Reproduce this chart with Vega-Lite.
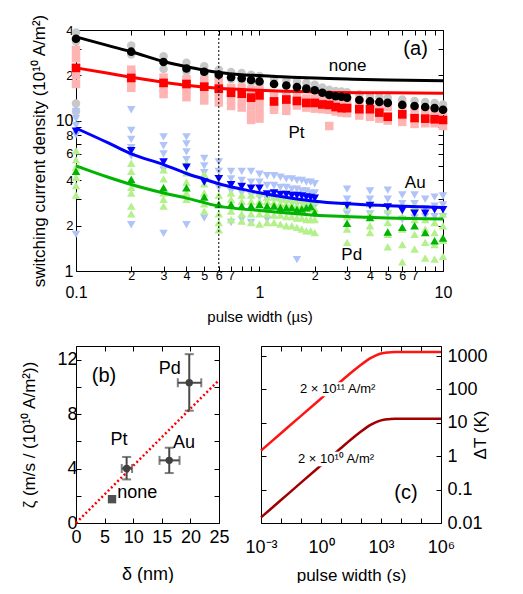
{
"$schema":"https://vega.github.io/schema/vega-lite/v6.json",
"padding":{"left":20,"top":13,"right":0,"bottom":0},
"config":{"font":"Liberation Sans","view":{"stroke":null},"axis":{"domainColor":"#000","tickColor":"#000","labelColor":"#000","titleColor":"#000","titleFontWeight":"normal","grid":false,"labelFont":"Liberation Sans","titleFont":"Liberation Sans","labelOverlap":false,"labelBound":false,"labelFlush":false}},
"datasets":{
"rawA":[
{"s":"none","x":0.1,"y":38.5},{"s":"none","x":0.1,"y":33.5},{"s":"none","x":0.1,"y":13.0},{"s":"none","x":0.1,"y":11.5},
{"s":"none","x":0.2,"y":31.5},{"s":"none","x":0.2,"y":27.5},{"s":"none","x":0.3,"y":26.8},{"s":"none","x":0.3,"y":22.0},
{"s":"none","x":0.4,"y":24.2},{"s":"none","x":0.4,"y":21.2},{"s":"none","x":0.5,"y":23.0},{"s":"none","x":0.5,"y":20.3},
{"s":"none","x":0.6,"y":21.8},{"s":"none","x":0.6,"y":19.2},{"s":"none","x":0.7,"y":21.0},{"s":"none","x":0.7,"y":18.8},
{"s":"none","x":0.8,"y":20.7},{"s":"none","x":0.8,"y":18.5},{"s":"none","x":0.9,"y":20.2},{"s":"none","x":0.9,"y":18.0},
{"s":"none","x":1,"y":19.8},{"s":"none","x":1,"y":17.6},{"s":"none","x":1.2,"y":19.0},{"s":"none","x":1.4,"y":18.5},
{"s":"none","x":1.6,"y":18.2},{"s":"none","x":1.8,"y":17.8},{"s":"none","x":2,"y":17.3},{"s":"none","x":2.2,"y":16.6},
{"s":"none","x":2.4,"y":16.0},{"s":"none","x":2.6,"y":15.7},{"s":"none","x":2.8,"y":15.6},{"s":"none","x":3,"y":15.4},
{"s":"none","x":3.5,"y":14.9},{"s":"none","x":4,"y":14.5},{"s":"none","x":4.5,"y":14.4},{"s":"none","x":5,"y":14.2},
{"s":"none","x":6,"y":13.8},{"s":"none","x":7,"y":13.5},{"s":"none","x":8,"y":13.3},{"s":"none","x":9,"y":13.1},{"s":"none","x":10,"y":12.8},
{"s":"Pt","x":0.1,"y":29.5},{"s":"Pt","x":0.1,"y":26},{"s":"Pt","x":0.1,"y":20},{"s":"Pt","x":0.1,"y":17.5},
{"s":"Pt","x":0.2,"y":21.8},{"s":"Pt","x":0.2,"y":20.5},{"s":"Pt","x":0.2,"y":17.8},{"s":"Pt","x":0.2,"y":16.5},
{"s":"Pt","x":0.3,"y":19.3},{"s":"Pt","x":0.3,"y":16.5},{"s":"Pt","x":0.3,"y":15.0},
{"s":"Pt","x":0.4,"y":18.8},{"s":"Pt","x":0.4,"y":16.0},{"s":"Pt","x":0.4,"y":14.3},
{"s":"Pt","x":0.5,"y":18.5},{"s":"Pt","x":0.5,"y":15.2},{"s":"Pt","x":0.5,"y":13.6},
{"s":"Pt","x":0.6,"y":18.5},{"s":"Pt","x":0.6,"y":14.8},{"s":"Pt","x":0.6,"y":13.2},
{"s":"Pt","x":0.7,"y":16.5},{"s":"Pt","x":0.7,"y":13.8},{"s":"Pt","x":0.7,"y":12.5},
{"s":"Pt","x":0.8,"y":16.5},{"s":"Pt","x":0.8,"y":13.5},{"s":"Pt","x":0.8,"y":12.2},
{"s":"Pt","x":0.9,"y":16.0},{"s":"Pt","x":0.9,"y":12.5},{"s":"Pt","x":0.9,"y":11.0},{"s":"Pt","x":0.9,"y":10.1},
{"s":"Pt","x":1,"y":16.0},{"s":"Pt","x":1,"y":13.0},{"s":"Pt","x":1,"y":11.5},{"s":"Pt","x":1,"y":10.3},
{"s":"Pt","x":1.2,"y":14.5},{"s":"Pt","x":1.2,"y":12.3},{"s":"Pt","x":1.2,"y":11.8},
{"s":"Pt","x":1.4,"y":14.8},{"s":"Pt","x":1.4,"y":12.5},{"s":"Pt","x":1.4,"y":11.6},
{"s":"Pt","x":1.6,"y":14.6},{"s":"Pt","x":1.6,"y":12.6},{"s":"Pt","x":1.8,"y":14.0},{"s":"Pt","x":1.8,"y":12.2},
{"s":"Pt","x":2,"y":14.0},{"s":"Pt","x":2,"y":12.0},{"s":"Pt","x":2.2,"y":13.8},{"s":"Pt","x":2.2,"y":11.9},
{"s":"Pt","x":2.4,"y":13.5},{"s":"Pt","x":2.4,"y":11.8},{"s":"Pt","x":2.4,"y":9.2},{"s":"Pt","x":2.6,"y":13.2},{"s":"Pt","x":2.6,"y":11.5},
{"s":"Pt","x":2.8,"y":13.0},{"s":"Pt","x":2.8,"y":11.3},{"s":"Pt","x":3,"y":12.9},{"s":"Pt","x":3,"y":11.2},
{"s":"Pt","x":3.5,"y":13.5},{"s":"Pt","x":3.5,"y":10.8},{"s":"Pt","x":4,"y":13.2},{"s":"Pt","x":4,"y":10.6},
{"s":"Pt","x":4.5,"y":12.8},{"s":"Pt","x":4.5,"y":10.3},{"s":"Pt","x":5,"y":12.3},{"s":"Pt","x":5,"y":10.0},
{"s":"Pt","x":6,"y":12.6},{"s":"Pt","x":6,"y":9.8},{"s":"Pt","x":7,"y":12.0},{"s":"Pt","x":7,"y":9.5},
{"s":"Pt","x":8,"y":11.4},{"s":"Pt","x":8,"y":9.6},{"s":"Pt","x":9,"y":11.1},{"s":"Pt","x":9,"y":9.6},{"s":"Pt","x":10,"y":11.6},{"s":"Pt","x":10,"y":9.2},
{"s":"Au","x":0.1,"y":11.5},{"s":"Au","x":0.1,"y":10.3},{"s":"Au","x":0.1,"y":9.3},{"s":"Au","x":0.1,"y":8.0},{"s":"Au","x":0.1,"y":1.75},
{"s":"Au","x":0.2,"y":11.8},{"s":"Au","x":0.2,"y":8.6},{"s":"Au","x":0.2,"y":7.5},{"s":"Au","x":0.2,"y":6.6},{"s":"Au","x":0.2,"y":5.8},{"s":"Au","x":0.2,"y":2.03},
{"s":"Au","x":0.3,"y":7.8},{"s":"Au","x":0.3,"y":6.8},{"s":"Au","x":0.3,"y":6.0},{"s":"Au","x":0.3,"y":4.7},{"s":"Au","x":0.3,"y":1.78},
{"s":"Au","x":0.4,"y":7.8},{"s":"Au","x":0.4,"y":7.0},{"s":"Au","x":0.4,"y":6.2},{"s":"Au","x":0.4,"y":5.5},{"s":"Au","x":0.4,"y":2.03},
{"s":"Au","x":0.5,"y":5.6},{"s":"Au","x":0.5,"y":5.0},{"s":"Au","x":0.5,"y":4.5},{"s":"Au","x":0.5,"y":2.25},
{"s":"Au","x":0.6,"y":5.3},{"s":"Au","x":0.6,"y":4.6},{"s":"Au","x":0.6,"y":3.6},
{"s":"Au","x":0.7,"y":4.6},{"s":"Au","x":0.7,"y":4.1},{"s":"Au","x":0.7,"y":3.4},{"s":"Au","x":0.7,"y":2.1},
{"s":"Au","x":0.8,"y":4.6},{"s":"Au","x":0.8,"y":4.0},{"s":"Au","x":0.8,"y":3.3},{"s":"Au","x":0.8,"y":2.2},
{"s":"Au","x":0.9,"y":4.6},{"s":"Au","x":0.9,"y":3.9},{"s":"Au","x":0.9,"y":3.2},{"s":"Au","x":0.9,"y":2.1},
{"s":"Au","x":1,"y":4.4},{"s":"Au","x":1,"y":3.9},{"s":"Au","x":1,"y":3.1},
{"s":"Au","x":1.1,"y":4.3},{"s":"Au","x":1.1,"y":3.7},{"s":"Au","x":1.1,"y":3.0},{"s":"Au","x":1.1,"y":2.2},
{"s":"Au","x":1.2,"y":4.3},{"s":"Au","x":1.2,"y":3.7},{"s":"Au","x":1.2,"y":3.0},
{"s":"Au","x":1.3,"y":4.2},{"s":"Au","x":1.3,"y":3.6},{"s":"Au","x":1.3,"y":2.9},
{"s":"Au","x":1.4,"y":4.1},{"s":"Au","x":1.4,"y":3.6},{"s":"Au","x":1.4,"y":2.9},
{"s":"Au","x":1.5,"y":4.1},{"s":"Au","x":1.5,"y":3.5},{"s":"Au","x":1.5,"y":2.8},
{"s":"Au","x":1.6,"y":4.0},{"s":"Au","x":1.6,"y":3.5},{"s":"Au","x":1.6,"y":2.8},{"s":"Au","x":1.6,"y":1.19},
{"s":"Au","x":1.7,"y":4.0},{"s":"Au","x":1.7,"y":3.4},{"s":"Au","x":1.7,"y":2.8},
{"s":"Au","x":1.8,"y":3.9},{"s":"Au","x":1.8,"y":3.4},{"s":"Au","x":1.8,"y":2.7},
{"s":"Au","x":1.9,"y":3.9},{"s":"Au","x":1.9,"y":3.3},{"s":"Au","x":1.9,"y":2.7},
{"s":"Au","x":2,"y":3.8},{"s":"Au","x":2,"y":3.3},{"s":"Au","x":2,"y":2.7},
{"s":"Au","x":3,"y":3.5},{"s":"Au","x":3,"y":3.0},{"s":"Au","x":3,"y":2.4},
{"s":"Au","x":4,"y":3.4},{"s":"Au","x":4,"y":3.0},{"s":"Au","x":4,"y":2.4},
{"s":"Au","x":5,"y":3.45},{"s":"Au","x":5,"y":3.0},{"s":"Au","x":5,"y":2.4},
{"s":"Au","x":6,"y":3.2},{"s":"Au","x":6,"y":2.8},{"s":"Au","x":6,"y":2.2},
{"s":"Au","x":7,"y":3.2},{"s":"Au","x":7,"y":2.8},{"s":"Au","x":7,"y":2.25},
{"s":"Au","x":8,"y":3.0},{"s":"Au","x":8,"y":2.6},{"s":"Au","x":8,"y":2.3},
{"s":"Au","x":9,"y":3.1},{"s":"Au","x":9,"y":2.7},{"s":"Au","x":9,"y":2.3},
{"s":"Au","x":10,"y":3.15},{"s":"Au","x":10,"y":2.75},{"s":"Au","x":10,"y":2.3},
{"s":"Pd","x":0.1,"y":6.3},{"s":"Pd","x":0.1,"y":5.5},{"s":"Pd","x":0.1,"y":4.9},{"s":"Pd","x":0.1,"y":4.2},{"s":"Pd","x":0.1,"y":3.7},{"s":"Pd","x":0.1,"y":3.2},
{"s":"Pd","x":0.2,"y":5.2},{"s":"Pd","x":0.2,"y":4.6},{"s":"Pd","x":0.2,"y":3.6},{"s":"Pd","x":0.2,"y":3.3},{"s":"Pd","x":0.2,"y":2.7},{"s":"Pd","x":0.2,"y":2.4},
{"s":"Pd","x":0.3,"y":4.7},{"s":"Pd","x":0.3,"y":4.1},{"s":"Pd","x":0.3,"y":3.3},{"s":"Pd","x":0.3,"y":3.0},{"s":"Pd","x":0.3,"y":2.7},
{"s":"Pd","x":0.4,"y":5.2},{"s":"Pd","x":0.4,"y":4.5},{"s":"Pd","x":0.4,"y":3.9},{"s":"Pd","x":0.4,"y":3.3},{"s":"Pd","x":0.4,"y":3.0},
{"s":"Pd","x":0.5,"y":4.4},{"s":"Pd","x":0.5,"y":3.8},{"s":"Pd","x":0.5,"y":3.3},{"s":"Pd","x":0.5,"y":2.8},{"s":"Pd","x":0.5,"y":2.5},
{"s":"Pd","x":0.6,"y":3.2},{"s":"Pd","x":0.6,"y":2.8},{"s":"Pd","x":0.6,"y":2.4},{"s":"Pd","x":0.6,"y":2.1},{"s":"Pd","x":0.6,"y":1.88},
{"s":"Pd","x":0.7,"y":3.3},{"s":"Pd","x":0.7,"y":3.0},{"s":"Pd","x":0.7,"y":2.5},{"s":"Pd","x":0.7,"y":2.2},
{"s":"Pd","x":0.8,"y":3.2},{"s":"Pd","x":0.8,"y":2.9},{"s":"Pd","x":0.8,"y":2.4},{"s":"Pd","x":0.8,"y":2.15},
{"s":"Pd","x":0.9,"y":3.2},{"s":"Pd","x":0.9,"y":2.9},{"s":"Pd","x":0.9,"y":2.4},{"s":"Pd","x":0.9,"y":2.1},
{"s":"Pd","x":1,"y":3.3},{"s":"Pd","x":1,"y":2.9},{"s":"Pd","x":1,"y":2.4},{"s":"Pd","x":1,"y":2.05},
{"s":"Pd","x":1.1,"y":3.1},{"s":"Pd","x":1.1,"y":2.9},{"s":"Pd","x":1.1,"y":2.4},{"s":"Pd","x":1.1,"y":2.1},
{"s":"Pd","x":1.2,"y":3.1},{"s":"Pd","x":1.2,"y":2.85},{"s":"Pd","x":1.2,"y":2.35},{"s":"Pd","x":1.2,"y":2.1},
{"s":"Pd","x":1.3,"y":3.05},{"s":"Pd","x":1.3,"y":2.8},{"s":"Pd","x":1.3,"y":2.35},{"s":"Pd","x":1.3,"y":2.05},
{"s":"Pd","x":1.4,"y":3.0},{"s":"Pd","x":1.4,"y":2.8},{"s":"Pd","x":1.4,"y":2.3},{"s":"Pd","x":1.4,"y":2.0},
{"s":"Pd","x":1.5,"y":3.0},{"s":"Pd","x":1.5,"y":2.75},{"s":"Pd","x":1.5,"y":2.3},{"s":"Pd","x":1.5,"y":2.0},
{"s":"Pd","x":1.6,"y":2.95},{"s":"Pd","x":1.6,"y":2.7},{"s":"Pd","x":1.6,"y":2.25},{"s":"Pd","x":1.6,"y":1.95},
{"s":"Pd","x":1.7,"y":2.95},{"s":"Pd","x":1.7,"y":2.7},{"s":"Pd","x":1.7,"y":2.25},{"s":"Pd","x":1.7,"y":1.9},
{"s":"Pd","x":1.8,"y":2.9},{"s":"Pd","x":1.8,"y":2.65},{"s":"Pd","x":1.8,"y":2.2},{"s":"Pd","x":1.8,"y":1.85},
{"s":"Pd","x":1.9,"y":2.9},{"s":"Pd","x":1.9,"y":2.6},{"s":"Pd","x":1.9,"y":2.2},{"s":"Pd","x":1.9,"y":1.85},
{"s":"Pd","x":2,"y":2.9},{"s":"Pd","x":2,"y":2.6},{"s":"Pd","x":2,"y":2.2},{"s":"Pd","x":2,"y":1.8},
{"s":"Pd","x":3,"y":2.7},{"s":"Pd","x":3,"y":2.3},{"s":"Pd","x":3,"y":1.9},{"s":"Pd","x":3,"y":1.55},
{"s":"Pd","x":4,"y":2.8},{"s":"Pd","x":4,"y":2.4},{"s":"Pd","x":4,"y":2.0},{"s":"Pd","x":4,"y":1.8},
{"s":"Pd","x":5,"y":2.55},{"s":"Pd","x":5,"y":2.1},{"s":"Pd","x":5,"y":1.75},{"s":"Pd","x":5,"y":1.45},
{"s":"Pd","x":6,"y":2.3},{"s":"Pd","x":6,"y":1.9},{"s":"Pd","x":6,"y":1.5},{"s":"Pd","x":6,"y":1.15},
{"s":"Pd","x":7,"y":2.7},{"s":"Pd","x":7,"y":2.2},{"s":"Pd","x":7,"y":1.75},{"s":"Pd","x":7,"y":1.4},
{"s":"Pd","x":8,"y":2.2},{"s":"Pd","x":8,"y":1.9},{"s":"Pd","x":8,"y":1.55},{"s":"Pd","x":8,"y":1.22},
{"s":"Pd","x":9,"y":2.1},{"s":"Pd","x":9,"y":1.8},{"s":"Pd","x":9,"y":1.5},{"s":"Pd","x":9,"y":1.2},
{"s":"Pd","x":10,"y":2.4},{"s":"Pd","x":10,"y":2.0},{"s":"Pd","x":10,"y":1.6},{"s":"Pd","x":10,"y":1.25}
],
"meanA":[
{"s":"none","x":0.1,"y":35.0},{"s":"none","x":0.2,"y":28.7},{"s":"none","x":0.3,"y":24.5},{"s":"none","x":0.4,"y":22.2},{"s":"none","x":0.5,"y":21.1},{"s":"none","x":0.6,"y":20.2},{"s":"none","x":0.7,"y":19.4},{"s":"none","x":0.8,"y":19.1},{"s":"none","x":0.9,"y":18.6},{"s":"none","x":1,"y":18.2},{"s":"none","x":1.2,"y":17.5},{"s":"none","x":1.4,"y":17.1},{"s":"none","x":1.6,"y":16.7},{"s":"none","x":1.8,"y":16.3},{"s":"none","x":2,"y":15.9},{"s":"none","x":2.2,"y":15.3},{"s":"none","x":2.4,"y":14.8},{"s":"none","x":2.6,"y":14.5},{"s":"none","x":2.8,"y":14.4},{"s":"none","x":3,"y":14.2},{"s":"none","x":3.5,"y":13.7},{"s":"none","x":4,"y":13.4},{"s":"none","x":4.5,"y":13.3},{"s":"none","x":5,"y":13.1},{"s":"none","x":6,"y":12.7},{"s":"none","x":7,"y":12.5},{"s":"none","x":8,"y":12.3},{"s":"none","x":9,"y":12.1},{"s":"none","x":10,"y":11.8},
{"s":"Pt","x":0.1,"y":22.4},{"s":"Pt","x":0.2,"y":19.2},{"s":"Pt","x":0.3,"y":17.8},{"s":"Pt","x":0.4,"y":17.5},{"s":"Pt","x":0.5,"y":16.8},{"s":"Pt","x":0.6,"y":16.3},{"s":"Pt","x":0.7,"y":15.3},{"s":"Pt","x":0.8,"y":15.1},{"s":"Pt","x":0.9,"y":14.2},{"s":"Pt","x":1,"y":14.7},{"s":"Pt","x":1.2,"y":13.4},{"s":"Pt","x":1.4,"y":13.8},{"s":"Pt","x":1.6,"y":13.5},{"s":"Pt","x":1.8,"y":13.1},{"s":"Pt","x":2,"y":13.1},{"s":"Pt","x":2.2,"y":12.8},{"s":"Pt","x":2.4,"y":12.7},{"s":"Pt","x":2.6,"y":12.3},{"s":"Pt","x":2.8,"y":12.1},{"s":"Pt","x":3,"y":12.1},{"s":"Pt","x":3.5,"y":11.9},{"s":"Pt","x":4,"y":11.9},{"s":"Pt","x":4.5,"y":11.3},{"s":"Pt","x":5,"y":10.6},{"s":"Pt","x":6,"y":11.0},{"s":"Pt","x":7,"y":10.4},{"s":"Pt","x":8,"y":10.3},{"s":"Pt","x":9,"y":10.2},{"s":"Pt","x":10,"y":10.1},
{"s":"Au","x":0.1,"y":8.5},{"s":"Au","x":0.2,"y":6.3},{"s":"Au","x":0.3,"y":5.3},{"s":"Au","x":0.4,"y":4.9},{"s":"Au","x":0.5,"y":3.9},{"s":"Au","x":0.6,"y":4.1},{"s":"Au","x":0.7,"y":3.75},{"s":"Au","x":0.8,"y":3.65},{"s":"Au","x":0.9,"y":3.55},{"s":"Au","x":1,"y":3.55},{"s":"Au","x":1.1,"y":3.25},{"s":"Au","x":1.2,"y":3.3},{"s":"Au","x":1.3,"y":3.23},{"s":"Au","x":1.4,"y":3.23},{"s":"Au","x":1.5,"y":3.18},{"s":"Au","x":1.6,"y":3.18},{"s":"Au","x":1.7,"y":3.15},{"s":"Au","x":1.8,"y":3.1},{"s":"Au","x":1.9,"y":3.08},{"s":"Au","x":2,"y":3.05},{"s":"Au","x":3,"y":2.73},{"s":"Au","x":4,"y":2.73},{"s":"Au","x":5,"y":2.66},{"s":"Au","x":6,"y":2.52},{"s":"Au","x":7,"y":2.42},{"s":"Au","x":8,"y":2.42},{"s":"Au","x":9,"y":2.55},{"s":"Au","x":10,"y":2.55},
{"s":"Pd","x":0.1,"y":4.6},{"s":"Pd","x":0.2,"y":4.05},{"s":"Pd","x":0.3,"y":3.57},{"s":"Pd","x":0.4,"y":3.57},{"s":"Pd","x":0.5,"y":3.1},{"s":"Pd","x":0.6,"y":2.77},{"s":"Pd","x":0.7,"y":2.77},{"s":"Pd","x":0.8,"y":2.7},{"s":"Pd","x":0.9,"y":2.7},{"s":"Pd","x":1,"y":2.77},{"s":"Pd","x":1.1,"y":2.7},{"s":"Pd","x":1.2,"y":2.7},{"s":"Pd","x":1.3,"y":2.63},{"s":"Pd","x":1.4,"y":2.63},{"s":"Pd","x":1.5,"y":2.63},{"s":"Pd","x":1.6,"y":2.56},{"s":"Pd","x":1.7,"y":2.58},{"s":"Pd","x":1.8,"y":2.63},{"s":"Pd","x":1.9,"y":2.68},{"s":"Pd","x":2,"y":2.45},{"s":"Pd","x":3,"y":2.08},{"s":"Pd","x":4,"y":2.27},{"s":"Pd","x":5,"y":1.82},{"s":"Pd","x":6,"y":1.95},{"s":"Pd","x":7,"y":2.0},{"s":"Pd","x":8,"y":1.8},{"s":"Pd","x":9,"y":1.59},{"s":"Pd","x":10,"y":1.66}
],
"fitA":[
{"s":"none","x":0.1,"y":36.0},{"s":"none","x":0.15,"y":31.5},{"s":"none","x":0.2,"y":28.7},{"s":"none","x":0.3,"y":24.7},{"s":"none","x":0.4,"y":22.8},{"s":"none","x":0.6,"y":20.9},{"s":"none","x":0.8,"y":20.2},{"s":"none","x":1,"y":19.9},{"s":"none","x":1.5,"y":19.4},{"s":"none","x":2,"y":19.2},{"s":"none","x":3,"y":18.9},{"s":"none","x":5,"y":18.6},{"s":"none","x":10,"y":18.4},
{"s":"Pt","x":0.1,"y":22.4},{"s":"Pt","x":0.15,"y":20.6},{"s":"Pt","x":0.2,"y":19.4},{"s":"Pt","x":0.3,"y":18.0},{"s":"Pt","x":0.4,"y":17.2},{"s":"Pt","x":0.6,"y":16.4},{"s":"Pt","x":1,"y":15.9},{"s":"Pt","x":2,"y":15.5},{"s":"Pt","x":5,"y":15.3},{"s":"Pt","x":10,"y":15.2},
{"s":"Au","x":0.1,"y":8.9},{"s":"Au","x":0.15,"y":7.1},{"s":"Au","x":0.2,"y":6.0},{"s":"Au","x":0.3,"y":5.1},{"s":"Au","x":0.4,"y":4.45},{"s":"Au","x":0.5,"y":4.08},{"s":"Au","x":0.6,"y":3.8},{"s":"Au","x":0.8,"y":3.5},{"s":"Au","x":1,"y":3.31},{"s":"Au","x":1.5,"y":3.05},{"s":"Au","x":2,"y":2.91},{"s":"Au","x":3,"y":2.8},{"s":"Au","x":5,"y":2.72},{"s":"Au","x":10,"y":2.64},
{"s":"Pd","x":0.1,"y":5.0},{"s":"Pd","x":0.15,"y":4.2},{"s":"Pd","x":0.2,"y":3.76},{"s":"Pd","x":0.3,"y":3.3},{"s":"Pd","x":0.4,"y":3.05},{"s":"Pd","x":0.6,"y":2.7},{"s":"Pd","x":1,"y":2.52},{"s":"Pd","x":2,"y":2.35},{"s":"Pd","x":3,"y":2.3},{"s":"Pd","x":5,"y":2.25},{"s":"Pd","x":10,"y":2.22}
],
"heat":[
{"j":"hi","t":0.001,"dT":1.47},{"j":"hi","t":0.01,"dT":4.88},{"j":"hi","t":0.1,"dT":16.2},{"j":"hi","t":1,"dT":53.5},{"j":"hi","t":3.16,"dT":97.1},{"j":"hi","t":10,"dT":176},{"j":"hi","t":31.6,"dT":316},{"j":"hi","t":50,"dT":396},{"j":"hi","t":100,"dT":551},{"j":"hi","t":200,"dT":743},{"j":"hi","t":316,"dT":883},{"j":"hi","t":500,"dT":1019},{"j":"hi","t":1000,"dT":1188},{"j":"hi","t":2000,"dT":1282},{"j":"hi","t":3000,"dT":1306},{"j":"hi","t":5000,"dT":1317},{"j":"hi","t":10000,"dT":1320},{"j":"hi","t":100000,"dT":1320},{"j":"hi","t":1000000,"dT":1320},
{"j":"lo","t":0.001,"dT":0.0147},{"j":"lo","t":0.01,"dT":0.0488},{"j":"lo","t":0.1,"dT":0.162},{"j":"lo","t":1,"dT":0.535},{"j":"lo","t":3.16,"dT":0.971},{"j":"lo","t":10,"dT":1.76},{"j":"lo","t":31.6,"dT":3.16},{"j":"lo","t":50,"dT":3.96},{"j":"lo","t":100,"dT":5.51},{"j":"lo","t":200,"dT":7.43},{"j":"lo","t":316,"dT":8.83},{"j":"lo","t":500,"dT":10.19},{"j":"lo","t":1000,"dT":11.88},{"j":"lo","t":2000,"dT":12.82},{"j":"lo","t":3000,"dT":13.06},{"j":"lo","t":5000,"dT":13.17},{"j":"lo","t":10000,"dT":13.2},{"j":"lo","t":100000,"dT":13.2},{"j":"lo","t":1000000,"dT":13.2}
],
"zeta":[
{"m":"Pt","x":8.85,"y":4.0,"xlo":8.0,"xhi":9.8,"ylo":3.2,"yhi":4.85},
{"m":"Au","x":16.3,"y":4.6,"xlo":14.6,"xhi":18.1,"ylo":3.67,"yhi":5.53},
{"m":"Pd","x":19.8,"y":10.3,"xlo":17.8,"xhi":21.9,"ylo":8.25,"yhi":12.4}
]
},
"vconcat":[
{
"width":367,"height":241,
"layer":[
{"data":{"name":"rawA"},"mark":{"type":"point","filled":true,"size":72,"opacity":1},
"encoding":{
"x":{"field":"x","type":"quantitative","scale":{"type":"log","domain":[0.1,10],"nice":false},
"axis":{"orient":"bottom","values":[0.1,0.2,0.3,0.4,0.5,0.6,0.7,0.8,0.9,1,2,3,4,5,6,7,8,9,10],
"labelExpr":"indexof([0.8,0.9,8,9],datum.value)>=0 ? '' : datum.value==0.1 ? '0.1' : datum.value<1 ? format(datum.value*10,'d') : format(datum.value,'d')",
"labelFontSize":{"condition":{"test":"datum.value==0.1||datum.value==1||datum.value==10","value":16},"value":12.5},
"labelPadding":{"condition":{"test":"datum.value==0.1||datum.value==1||datum.value==10","value":18},"value":3},
"tickSize":-5,"title":"pulse width (µs)","titleFontSize":15,"titlePadding":9}},
"y":{"field":"y","type":"quantitative","scale":{"type":"log","domain":[1,40],"nice":false},
"axis":{"orient":"left","values":[1,2,3,4,5,6,7,8,9,10,20,30,40],
"labelExpr":"datum.value==1?'1':datum.value==2?'2':datum.value==4?'4':datum.value==6?'6':datum.value==8?'8':datum.value==10?'10':datum.value==20?'2':datum.value==40?'4':''",
"labelFontSize":{"condition":{"test":"datum.value==1||datum.value==10","value":16},"value":13},
"tickSize":-5,"labelPadding":8,"title":"switching current density (10¹⁰ A/m²)","titleFontSize":17,"titlePadding":7}},
"color":{"field":"s","type":"nominal","scale":{"domain":["none","Pt","Au","Pd"],"range":["#c8c8c8","#ffb4b4","#b0c4f8","#b4f08c"]},"legend":null},
"shape":{"field":"s","type":"nominal","scale":{"domain":["none","Pt","Au","Pd"],"range":["circle","square","triangle-down","triangle-up"]},"legend":null}
}},
{"data":{"name":"fitA"},"mark":{"type":"line","strokeWidth":3,"interpolate":"monotone"},
"encoding":{"x":{"field":"x","type":"quantitative","axis":null},"y":{"field":"y","type":"quantitative","axis":null},
"color":{"field":"s","type":"nominal","scale":{"domain":["none","Pt","Au","Pd"],"range":["#000000","#ff0000","#0000ff","#00b400"]},"legend":null}}},
{"data":{"name":"meanA"},"mark":{"type":"point","filled":true,"size":75,"opacity":1},
"encoding":{
"x":{"field":"x","type":"quantitative","axis":{"orient":"top","values":[0.1,0.2,0.3,0.4,0.5,0.6,0.7,0.8,0.9,1,2,3,4,5,6,7,8,9,10],"labels":false,"tickSize":-5,"title":null}},
"y":{"field":"y","type":"quantitative","axis":{"orient":"right","values":[1,2,3,4,5,6,7,8,9,10,20,30,40],"labels":false,"tickSize":-5,"title":null}},
"color":{"field":"s","type":"nominal","scale":{"domain":["none","Pt","Au","Pd"],"range":["#000000","#ff0000","#0000ff","#00b400"]},"legend":null},
"shape":{"field":"s","type":"nominal","legend":null}}},
{"data":{"values":[{"x":0.6}]},"mark":{"type":"rule","strokeDash":[2,2],"color":"#000","strokeWidth":1},
"encoding":{"x":{"field":"x","type":"quantitative","axis":null}}},
{"data":{"values":[{"t":"none","x":3.02,"y":23.2},{"t":"Pt","x":1.59,"y":8.3},{"t":"Au","x":7.06,"y":3.82},{"t":"Pd","x":3.18,"y":1.27}]},
"mark":{"type":"text","fontSize":17},
"encoding":{"x":{"field":"x","type":"quantitative","axis":null},"y":{"field":"y","type":"quantitative","axis":null},"text":{"field":"t"}}},
{"data":{"values":[{"t":"(a)","x":7.09,"y":29.9}]},
"mark":{"type":"text","fontSize":20},
"encoding":{"x":{"field":"x","type":"quantitative","axis":null},"y":{"field":"y","type":"quantitative","axis":null},"text":{"field":"t"}}}
],
"resolve":{"scale":{"color":"independent"},"axis":{"x":"independent","y":"independent"}}
},
{
"hconcat":[
{
"width":143,"height":177,
"layer":[
{"data":{"values":[{"x":0,"y":0},{"x":25,"y":10.5}]},"mark":{"type":"line","color":"#ff0000","strokeWidth":2.5,"strokeDash":[2,2.5]},
"encoding":{
"x":{"field":"x","type":"quantitative","scale":{"domain":[0,25],"nice":false},"axis":{"orient":"bottom","values":[0,5,10,15,20,25],"tickSize":-5,"labelFontSize":18,"labelPadding":10,"title":"δ (nm)","titleFontSize":18,"titlePadding":19}},
"y":{"field":"y","type":"quantitative","scale":{"domain":[0,13],"nice":false},"axis":{"orient":"left","values":[0,2,4,6,8,10,12],"labelExpr":"datum.value % 4 == 0 ? datum.label : ''","tickSize":-5,"labelFontSize":18,"labelPadding":4,"title":"ζ (m/s / (10¹⁰ A/m²))","titleFontSize":17,"titlePadding":18}}}},
{"data":{"name":"zeta"},"mark":{"type":"rule","color":"#4a4a4a","strokeWidth":2},
"encoding":{"x":{"field":"x","type":"quantitative","axis":null},"y":{"field":"ylo","type":"quantitative","axis":null},"y2":{"field":"yhi"}}},
{"data":{"name":"zeta"},"mark":{"type":"rule","color":"#4a4a4a","strokeWidth":2},
"encoding":{"x":{"field":"xlo","type":"quantitative","axis":null},"x2":{"field":"xhi"},"y":{"field":"y","type":"quantitative","axis":null}}},
{"data":{"name":"zeta"},"mark":{"type":"tick","orient":"horizontal","color":"#4a4a4a","size":9,"thickness":2},
"encoding":{"x":{"field":"x","type":"quantitative","axis":null},"y":{"field":"ylo","type":"quantitative","axis":null}}},
{"data":{"name":"zeta"},"mark":{"type":"tick","orient":"horizontal","color":"#4a4a4a","size":9,"thickness":2},
"encoding":{"x":{"field":"x","type":"quantitative","axis":null},"y":{"field":"yhi","type":"quantitative","axis":null}}},
{"data":{"name":"zeta"},"mark":{"type":"tick","orient":"vertical","color":"#4a4a4a","size":9,"thickness":2},
"encoding":{"x":{"field":"xlo","type":"quantitative","axis":null},"y":{"field":"y","type":"quantitative","axis":null}}},
{"data":{"name":"zeta"},"mark":{"type":"tick","orient":"vertical","color":"#4a4a4a","size":9,"thickness":2},
"encoding":{"x":{"field":"xhi","type":"quantitative","axis":null},"y":{"field":"y","type":"quantitative","axis":null}}},
{"data":{"name":"zeta"},"mark":{"type":"point","shape":"circle","filled":true,"size":55,"color":"#404040","opacity":1},
"encoding":{"x":{"field":"x","type":"quantitative","axis":{"orient":"top","values":[0,5,10,15,20,25],"labels":false,"tickSize":-5,"title":null}},
"y":{"field":"y","type":"quantitative","axis":{"orient":"right","values":[0,2,4,6,8,10,12],"labels":false,"tickSize":-5,"title":null}}}},
{"data":{"values":[{"m":"none","x":6.3,"y":1.75}]},"mark":{"type":"point","shape":"square","filled":true,"size":70,"color":"#505050","opacity":1},
"encoding":{"x":{"field":"x","type":"quantitative","axis":null},"y":{"field":"y","type":"quantitative","axis":null}}},
{"data":{"values":[{"t":"Pd","x":16.4,"y":11.3},{"t":"Pt","x":7.5,"y":6.1},{"t":"Au","x":18.9,"y":5.87},{"t":"none","x":10.7,"y":2.2}]},
"mark":{"type":"text","fontSize":18},
"encoding":{"x":{"field":"x","type":"quantitative","axis":null},"y":{"field":"y","type":"quantitative","axis":null},"text":{"field":"t"}}},
{"data":{"values":[{"t":"(b)","x":4.9,"y":10.8}]},
"mark":{"type":"text","fontSize":20},
"encoding":{"x":{"field":"x","type":"quantitative","axis":null},"y":{"field":"y","type":"quantitative","axis":null},"text":{"field":"t"}}}
],
"resolve":{"axis":{"x":"independent","y":"independent"}}
},
{
"width":180,"height":177,
"layer":[
{"data":{"name":"heat"},"mark":{"type":"line","strokeWidth":2.5,"interpolate":"monotone"},
"encoding":{
"x":{"field":"t","type":"quantitative","scale":{"type":"log","domain":[0.001,1000000],"nice":false},
"axis":{"orient":"bottom","values":[0.001,0.01,0.1,1,10,100,1000,10000,100000,1000000],
"labelExpr":"datum.value==0.001?'10⁻³':datum.value==1?'10⁰':datum.value==1000?'10³':datum.value==1000000?'10⁶':''",
"tickSize":-5,"labelFontSize":18,"labelPadding":20,"title":"pulse width (s)","titleFontSize":17,"titlePadding":11}},
"y":{"field":"dT","type":"quantitative","scale":{"type":"log","domain":[0.01,2000],"nice":false},
"axis":{"orient":"right","values":[0.01,0.1,1,10,100,1000],
"labelExpr":"datum.value>=1 ? format(datum.value,'d') : datum.value==0.1 ? '0.1' : '0.01'",
"tickSize":-5,"labelFontSize":18,"labelPadding":11,"title":"ΔT (K)","titleFontSize":17,"titleAngle":270,"titlePadding":2}},
"color":{"field":"j","type":"nominal","scale":{"domain":["hi","lo"],"range":["#ff1414","#a00000"]},"legend":null}}},
{"data":{"values":[{"x1":0.045,"x2":1200,"y1":62,"y2":165},{"x1":0.04,"x2":1000,"y1":0.5,"y2":1.35}]},
"mark":{"type":"rect","color":"#ffffff","opacity":1},
"encoding":{"x":{"field":"x1","type":"quantitative","axis":{"orient":"top","values":[0.001,0.01,0.1,1,10,100,1000,10000,100000,1000000],"labels":false,"tickSize":-5,"title":null}},"x2":{"field":"x2"},
"y":{"field":"y1","type":"quantitative","axis":{"orient":"left","values":[0.01,0.1,1,10,100,1000],"labels":false,"tickSize":-5,"title":null}},"y2":{"field":"y2"}}},
{"data":{"values":[{"t":"2 × 10¹¹ A/m²","x":6.8,"y":100},{"t":"2 × 10¹⁰ A/m²","x":5.6,"y":0.83}]},
"mark":{"type":"text","fontSize":13},
"encoding":{"x":{"field":"x","type":"quantitative","axis":null},"y":{"field":"y","type":"quantitative","axis":null},"text":{"field":"t"}}},
{"data":{"values":[{"t":"(c)","x":17800,"y":0.079}]},
"mark":{"type":"text","fontSize":20},
"encoding":{"x":{"field":"x","type":"quantitative","axis":null},"y":{"field":"y","type":"quantitative","axis":null},"text":{"field":"t"}}}
],
"resolve":{"axis":{"x":"independent","y":"independent"}}
}
],
"spacing":14
}
],
"spacing":21
}
